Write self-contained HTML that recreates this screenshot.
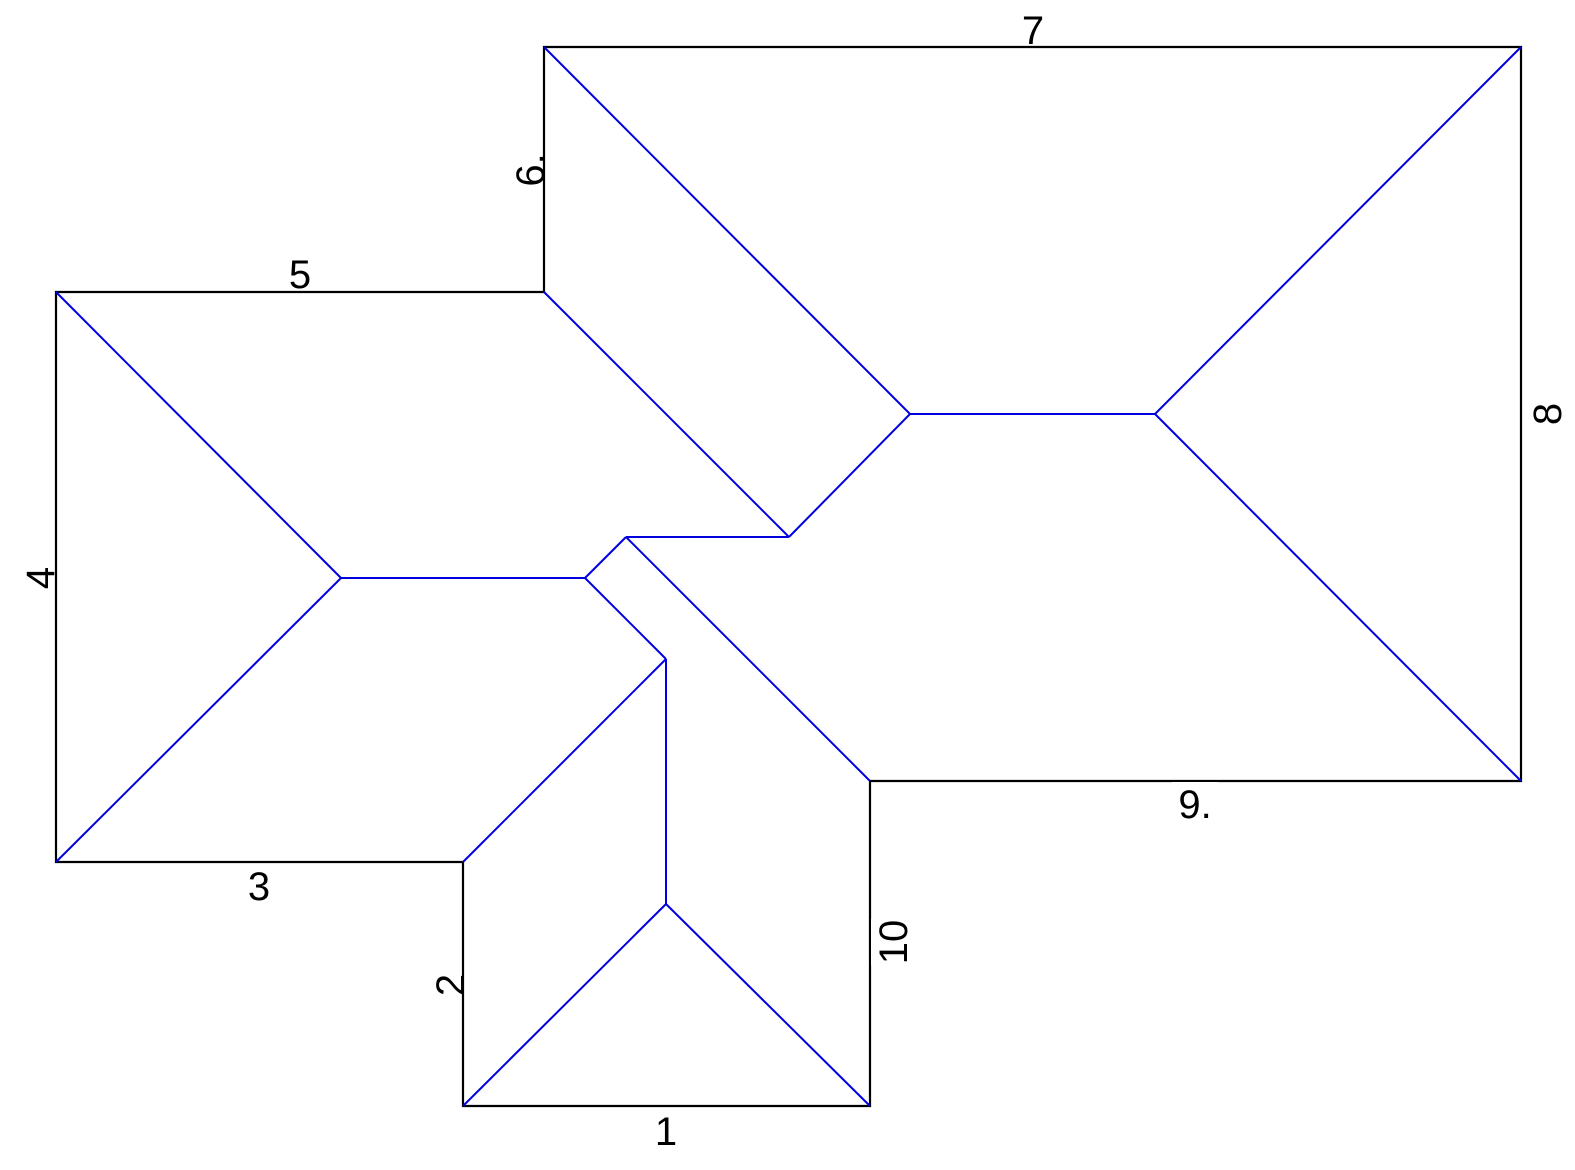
<!DOCTYPE html>
<html><head><meta charset="utf-8"><style>
html,body{margin:0;padding:0;background:#fff;}
svg{display:block;}
text{font-family:"Liberation Sans",sans-serif;font-size:40px;fill:#000;}
</style></head><body>
<svg id="plan" width="1575" height="1170" viewBox="0 0 1575 1170" xmlns="http://www.w3.org/2000/svg">
<polygon points="463,1106 870,1106 870,781 1521,781 1521,47 544,47 544,292 56,292 56,862 463,862" fill="none" stroke="#000" stroke-width="2.2"/>
<g id="blue"></g>
<g id="labels"></g>
</svg>
<script>
const pts = {A:[544,47],B:[910,414],C:[1155,414],D:[1521,47],E:[1521,781],F:[544,292],G:[789,537],H:[626,537],I:[585,578],J:[870,781],K:[56,292],L:[341,578],M:[56,862],N:[666,659],O:[463,862],P:[666,904],Q:[463,1106],R:[870,1106]};
const edges = [["A","B"],["B","C"],["C","D"],["C","E"],["F","G"],["G","B"],["G","H"],["H","I"],["H","J"],["K","L"],["L","I"],["L","M"],["I","N"],["N","O"],["N","P"],["P","Q"],["P","R"]];
const labelText = ["1","2","3","4","5","6.","7","8","9.","10"];
const labelPos = [[666,1131,0],[450,985,-90],[259,886,0],[40,578,-90],[300,274,0],[530,170,-90],[1033,30,0],[1547,414,-90],[1195,804,0],[893,942,-90]];
const NS="http://www.w3.org/2000/svg";
const g=document.getElementById('blue');
edges.forEach(e=>{
  const l=document.createElementNS(NS,'line');
  
  
  const a=pts[e[0]],b=pts[e[1]];
  l.setAttribute('x1',a[0]);l.setAttribute('y1',a[1]);l.setAttribute('x2',b[0]);l.setAttribute('y2',b[1]);
  l.setAttribute('stroke','#0000dd');l.setAttribute('stroke-width','2');
  g.appendChild(l);
});
const lg=document.getElementById('labels');
labelText.forEach((t,i)=>{
  const p=labelPos[i];
  const grp=document.createElementNS(NS,'g');
  
  
  grp.setAttribute('transform','translate('+p[0]+','+p[1]+') rotate('+p[2]+')');
  const w=t.length*20+6;
  const r=document.createElementNS(NS,'rect');
  
  
  r.setAttribute('x',-w/2);r.setAttribute('y',-22);r.setAttribute('width',w);r.setAttribute('height',32);r.setAttribute('fill','#fff');
  grp.appendChild(r);
  const tx=document.createElementNS(NS,'text');
  
  
  tx.setAttribute('text-anchor','middle');tx.setAttribute('y',14);
  tx.textContent=t;
  grp.appendChild(tx);
  lg.appendChild(grp);
});
</script>
</body></html>
